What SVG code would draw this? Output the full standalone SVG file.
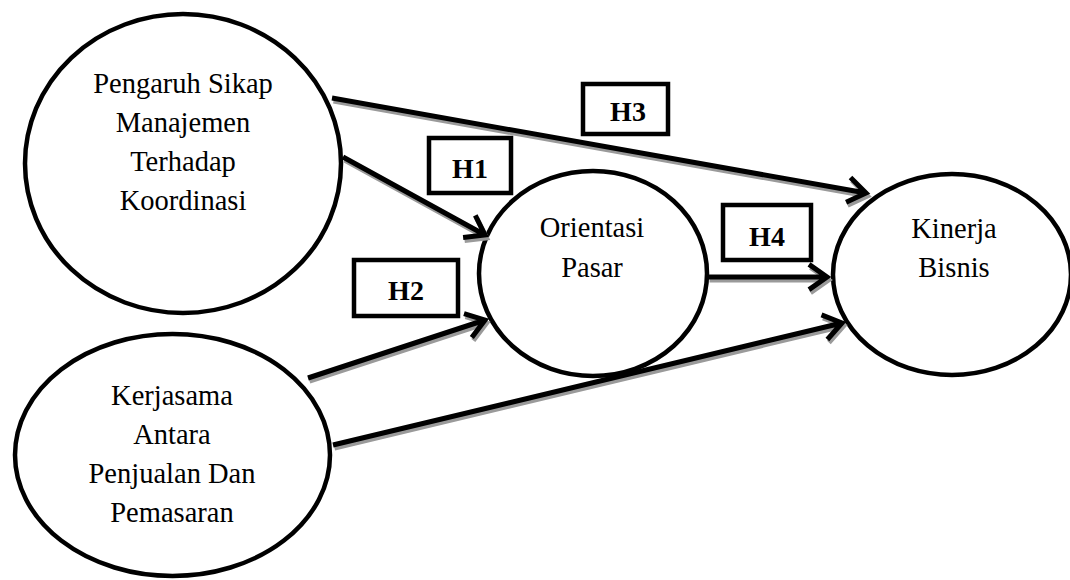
<svg xmlns="http://www.w3.org/2000/svg" xmlns:xlink="http://www.w3.org/1999/xlink" width="1070" height="580" viewBox="0 0 1070 580">
<style>
.node ellipse{fill:#fff;stroke:#000;stroke-width:4.5}
.node text{font-family:"Liberation Serif","Times New Roman",serif;font-size:28.5px;fill:#000;text-anchor:middle}
.lbl rect{fill:#fff;stroke:#000;stroke-width:4.5}
.lbl text{font-family:"Liberation Serif","Times New Roman",serif;font-size:28px;font-weight:bold;fill:#000;text-anchor:middle}
.shadow{fill:none;stroke:#9a9a9a;stroke-width:5;stroke-linejoin:miter;stroke-linecap:butt}
.line{fill:none;stroke:#000;stroke-width:5;stroke-linejoin:miter;stroke-linecap:butt}
</style>
<defs>
<path id="c-h3" d="M332,98 L866,193 M850.5,177.4 L866,193 L846.1,202.3"/>
<path id="c-h1" d="M343,157 L485,235 M475.3,215.3 L485,235 L463.1,237.4"/>
<path id="c-h2" d="M308,378 L485,320 M464,313.6 L485,320 L471.8,337.6"/>
<path id="c-h4" d="M708,277 L827,277 M809,264.4 L827,277 L809,289.6"/>
<path id="c-k" d="M333,445 L842,323 M821.5,314.9 L842,323 L827.4,339.5"/>
</defs>
<rect width="1070" height="580" fill="#fff"/>
<g id="n-pengaruh" class="node">
<ellipse cx="183" cy="163.5" rx="158" ry="149.5"/>
<text x="183" y="93">Pengaruh Sikap</text>
<text x="183" y="132">Manajemen</text>
<text x="183" y="171">Terhadap</text>
<text x="183" y="210">Koordinasi</text>
</g>
<g id="n-kerjasama" class="node">
<ellipse cx="172.5" cy="455" rx="157.5" ry="121"/>
<text x="172" y="405">Kerjasama</text>
<text x="172" y="444">Antara</text>
<text x="172" y="483">Penjualan Dan</text>
<text x="172" y="522">Pemasaran</text>
</g>
<g id="n-orientasi" class="node">
<ellipse cx="593" cy="273.5" rx="114" ry="102.5"/>
<text x="592" y="237">Orientasi</text>
<text x="592" y="277">Pasar</text>
</g>
<g id="n-kinerja" class="node">
<ellipse cx="952" cy="274.5" rx="119" ry="100.5"/>
<text x="954" y="238">Kinerja</text>
<text x="954" y="277">Bisnis</text>
</g>
<g id="connectors">
<g class="shadow" transform="translate(1.5,3)">
<use xlink:href="#c-h3"/><use xlink:href="#c-h1"/><use xlink:href="#c-h2"/><use xlink:href="#c-h4"/><use xlink:href="#c-k"/>
</g>
<g class="line">
<use xlink:href="#c-h3"/><use xlink:href="#c-h1"/><use xlink:href="#c-h2"/><use xlink:href="#c-h4"/><use xlink:href="#c-k"/>
</g>
</g>
<g id="l-h1" class="lbl"><rect x="429" y="138" width="82" height="55"/><text x="470" y="178">H1</text></g>
<g id="l-h2" class="lbl"><rect x="354" y="260" width="104" height="56"/><text x="406" y="300">H2</text></g>
<g id="l-h3" class="lbl"><rect x="583" y="84" width="85" height="50"/><text x="628" y="121">H3</text></g>
<g id="l-h4" class="lbl"><rect x="723" y="205" width="88" height="55"/><text x="767" y="246">H4</text></g>
</svg>
